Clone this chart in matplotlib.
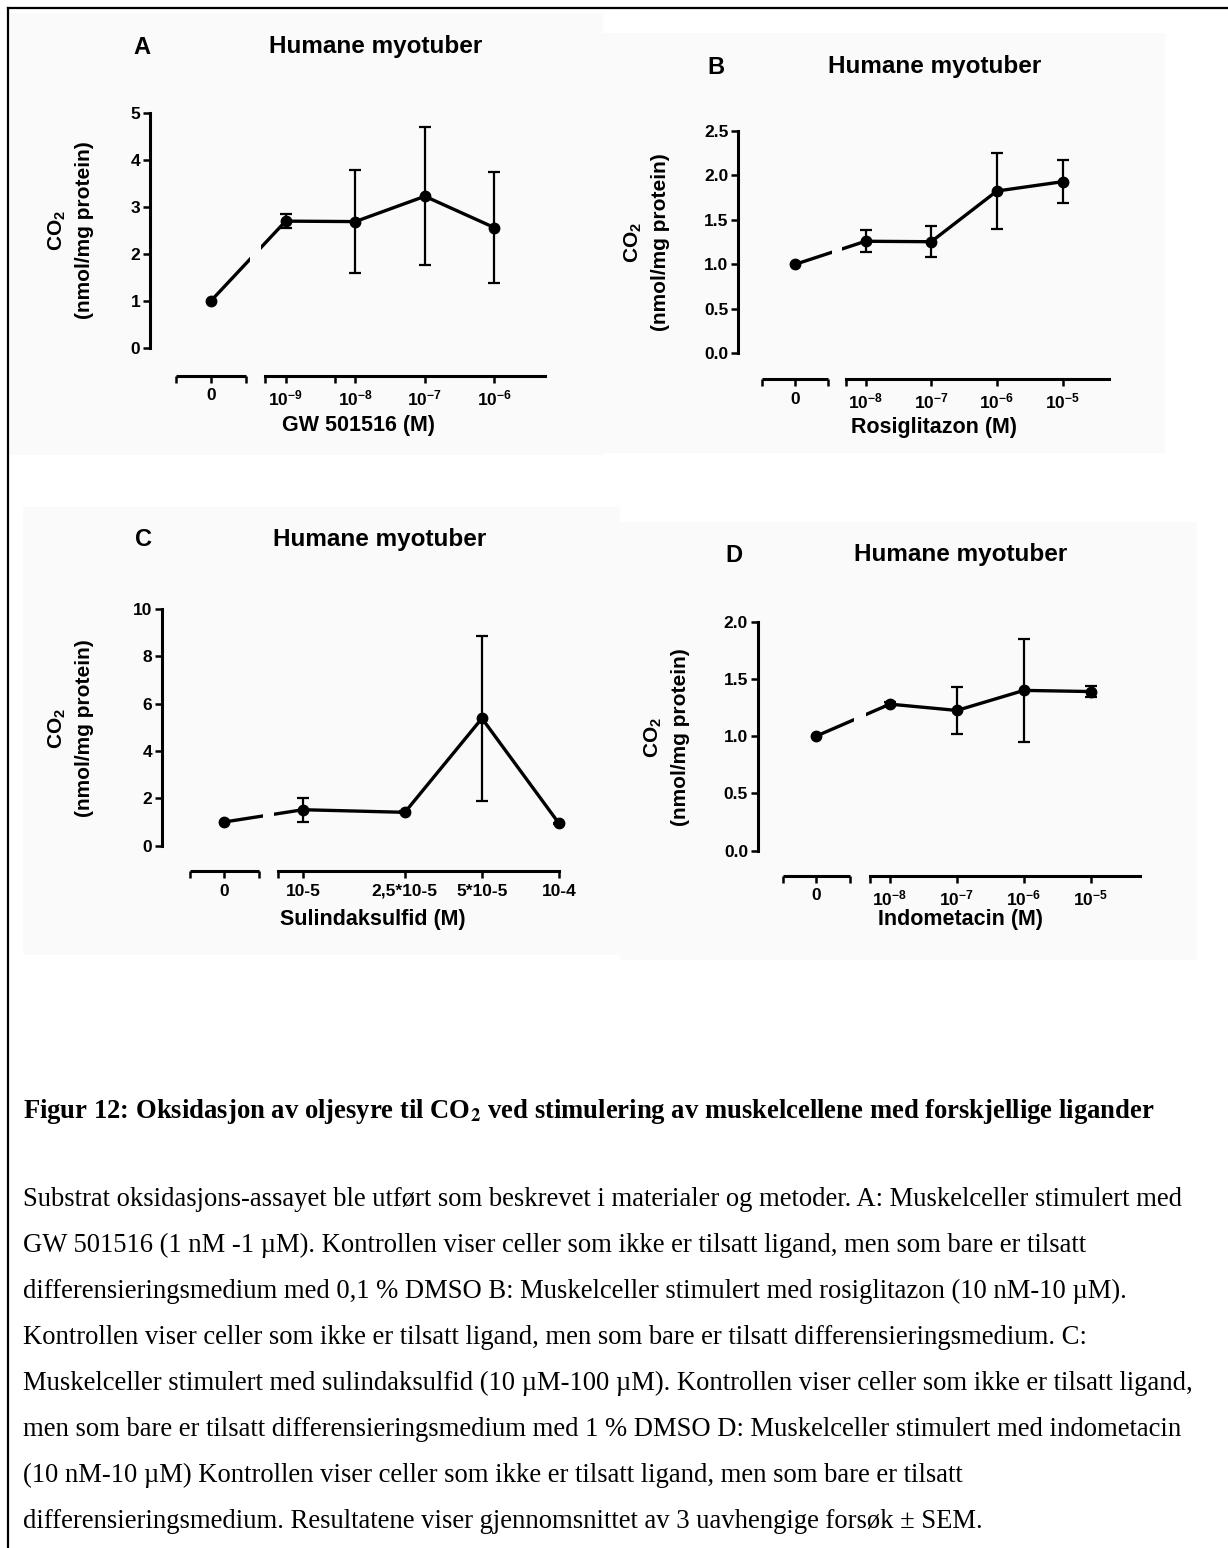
import matplotlib
matplotlib.use('Agg')
import matplotlib.pyplot as plt
import numpy as np
from matplotlib.patches import Rectangle
from matplotlib.lines import Line2D
import matplotlib.transforms as mtransforms

plt.rcParams['font.family'] = ['Liberation Sans', 'DejaVu Sans']
plt.rcParams['font.weight'] = 'bold'
plt.rcParams['mathtext.fontset'] = 'custom'
plt.rcParams['mathtext.bf'] = 'Liberation Sans:bold'
plt.rcParams['mathtext.rm'] = 'Liberation Sans:bold'
plt.rcParams['mathtext.it'] = 'Liberation Sans:bold'

# ---------------- data ----------------
panel_letters = ['A', 'B', 'C', 'D']
panel_title = 'Humane myotuber'
ylabel_text = '$\\mathbf{CO_2}$\n(nmol/mg protein)'

A_dose = [1e-9, 1e-8, 1e-7, 1e-6]
A_ctrl = 1.0
A_mean = [2.70, 2.69, 3.23, 2.56]
A_sem = [0.15, 1.09, 1.47, 1.18]
A_ticklabels = ['0', '$\\mathbf{10^{-9}}$', '$\\mathbf{10^{-8}}$', '$\\mathbf{10^{-7}}$', '$\\mathbf{10^{-6}}$']
A_xlabel = 'GW 501516 (M)'
A_yticks = [0, 1, 2, 3, 4, 5]

B_dose = [1e-8, 1e-7, 1e-6, 1e-5]
B_ctrl = 1.0
B_mean = [1.26, 1.255, 1.825, 1.93]
B_sem = [0.125, 0.175, 0.425, 0.24]
B_ticklabels = ['0', '$\\mathbf{10^{-8}}$', '$\\mathbf{10^{-7}}$', '$\\mathbf{10^{-6}}$', '$\\mathbf{10^{-5}}$']
B_xlabel = 'Rosiglitazon (M)'
B_yticks = [0.0, 0.5, 1.0, 1.5, 2.0, 2.5]

C_dose = [1e-5, 2.5e-5, 5e-5, 1e-4]
C_ctrl = 1.0
C_mean = [1.52, 1.41, 5.38, 0.94]
C_sem = [0.51, 0.04, 3.48, 0.04]
C_ticklabels = ['0', '10-5', '2,5*10-5', '5*10-5', '10-4']
C_xlabel = 'Sulindaksulfid (M)'
C_yticks = [0, 2, 4, 6, 8, 10]

D_dose = [1e-8, 1e-7, 1e-6, 1e-5]
D_ctrl = 1.0
D_mean = [1.28, 1.225, 1.40, 1.39]
D_sem = [0.02, 0.205, 0.45, 0.05]
D_ticklabels = ['0', '$\\mathbf{10^{-8}}$', '$\\mathbf{10^{-7}}$', '$\\mathbf{10^{-6}}$', '$\\mathbf{10^{-5}}$']
D_xlabel = 'Indometacin (M)'
D_yticks = [0.0, 0.5, 1.0, 1.5, 2.0]

caption_head = ('Figur 12: Oksidasjon av oljesyre til CO$_{\\mathbf{2}}$ ved stimulering av '
                'muskelcellene med forskjellige ligander')
caption_lines = [
    'Substrat oksidasjons-assayet ble utført som beskrevet i materialer og metoder. A: Muskelceller stimulert med',
    'GW 501516 (1 nM -1 µM). Kontrollen viser celler som ikke er tilsatt ligand, men som bare er tilsatt',
    'differensieringsmedium med 0,1 % DMSO B: Muskelceller stimulert med rosiglitazon (10 nM-10 µM).',
    'Kontrollen viser celler som ikke er tilsatt ligand, men som bare er tilsatt differensieringsmedium. C:',
    'Muskelceller stimulert med sulindaksulfid (10 µM-100 µM). Kontrollen viser celler som ikke er tilsatt ligand,',
    'men som bare er tilsatt differensieringsmedium med 1 % DMSO D: Muskelceller stimulert med indometacin',
    '(10 nM-10 µM) Kontrollen viser celler som ikke er tilsatt ligand, men som bare er tilsatt',
    'differensieringsmedium. Resultatene viser gjennomsnittet av 3 uavhengige forsøk ± SEM.',
]

# ---------------- layout (pixels) ----------------
W, H, DPI = 1228, 1548, 100
PT = 72.0 / DPI
BG = '#fafafa'

layouts = [
    dict(yx=150, ytop=113.3, ybot=347.7, xay=375.5, l0=176, l1=246, ctrl=211, r0=265, r1=545,
         ref_px=285.7, dec=69.6, extra=[335], letter=(142, 47), title=(376, 47),
         ylab=(70, 230), xlab=(359, 426), bgr=(10, 13, 603, 455)),
    dict(yx=738, ytop=131, ybot=353.3, xay=379, l0=762, l1=828, ctrl=795, r0=846, r1=1109,
         ref_px=865.5, dec=65.7, extra=[], letter=(716, 67), title=(935, 67),
         ylab=(646, 242), xlab=(934, 427), bgr=(603, 33, 1165, 453)),
    dict(yx=162, ytop=609, ybot=845.7, xay=871, l0=190, l1=259, ctrl=224, r0=278, r1=559,
         ref_px=303, dec=256, extra=[], letter=(144, 540), title=(380, 540),
         ylab=(70, 728), xlab=(373, 920), bgr=(23, 507, 620, 955)),
    dict(yx=757.8, ytop=621.7, ybot=850.7, xay=875.7, l0=783.4, l1=850.4, ctrl=816, r0=870, r1=1140,
         ref_px=889.9, dec=67, extra=[], letter=(734, 555), title=(961, 555),
         ylab=(666, 737), xlab=(960, 920), bgr=(620, 522, 1197, 960)),
]

panels = [
    (A_dose, A_ctrl, A_mean, A_sem, A_ticklabels, A_xlabel, A_yticks, '{x:.0f}'),
    (B_dose, B_ctrl, B_mean, B_sem, B_ticklabels, B_xlabel, B_yticks, '{x:.1f}'),
    (C_dose, C_ctrl, C_mean, C_sem, C_ticklabels, C_xlabel, C_yticks, '{x:.0f}'),
    (D_dose, D_ctrl, D_mean, D_sem, D_ticklabels, D_xlabel, D_yticks, '{x:.1f}'),
]

fig = plt.figure(figsize=(W / DPI, H / DPI), dpi=DPI)
fig.patch.set_facecolor('white')


def fx(px):
    return px / W


def fy(py):
    return 1 - py / H


for letter, L, (dose, ctrl, mean, sem, tlabels, xlabel, yticks, yfmt) in zip(panel_letters, layouts, panels):
    xs = np.log10(dose)
    ref_x = xs[0]

    def px2x(px, L=L, ref_x=ref_x):
        return ref_x + (px - L['ref_px']) / L['dec']

    # panel background
    x0, y0, x1, y1 = L['bgr']
    fig.add_artist(Rectangle((fx(x0), fy(y1)), (x1 - x0) / W, (y1 - y0) / H,
                             transform=fig.transFigure, facecolor=BG, edgecolor='none', zorder=-5))

    ymax = yticks[-1]
    ax = fig.add_axes([fx(L['yx']), fy(L['ybot']), (L['r1'] - L['yx']) / W, (L['ybot'] - L['ytop']) / H])
    ax.set_facecolor('none')
    ax.set_xlim(px2x(L['yx']), px2x(L['r1']))
    ax.set_ylim(0, ymax)
    for s in ['top', 'right']:
        ax.spines[s].set_visible(False)
    off_pt = (L['xay'] - L['ybot']) * PT
    ax.spines['bottom'].set_position(('outward', off_pt))
    ax.spines['bottom'].set_bounds(px2x(L['r0']), px2x(L['r1']))
    ax.spines['left'].set_bounds(0, ymax)
    for s in ['bottom', 'left']:
        ax.spines[s].set_linewidth(2.2)

    ctrl_x = px2x(L['ctrl'])
    ax.set_xticks([ctrl_x] + list(xs), labels=tlabels)
    ax.set_xticks([px2x(L['l0']), px2x(L['l1']), px2x(L['r0'])] + [px2x(p) for p in L['extra']], minor=True)
    ax.set_yticks(yticks)
    ax.yaxis.set_major_formatter(yfmt)
    ax.tick_params(axis='both', which='both', direction='out', width=1.8, length=5, labelsize=12.5)
    ax.tick_params(axis='x', pad=4)
    ax.tick_params(axis='y', pad=2)

    # left segment of the broken x axis
    trans = (mtransforms.blended_transform_factory(ax.transData, ax.transAxes)
             + mtransforms.ScaledTranslation(0, -off_pt / 72.0, fig.dpi_scale_trans))
    ax.plot([px2x(L['l0']), px2x(L['l1'])], [0, 0], transform=trans, color='k', lw=2.2,
            clip_on=False, solid_capstyle='butt')

    allx = [ctrl_x] + list(xs)
    ally = [ctrl] + list(mean)
    ax.plot(allx, ally, color='k', lw=2.4, zorder=2, clip_on=False)
    ax.errorbar(xs, mean, yerr=sem, fmt='none', ecolor='k', elinewidth=1.6, capsize=4.5,
                capthick=1.6, zorder=2.2, clip_on=False)
    # break in the connecting line at the axis break
    ax.axvspan(px2x(L['l1'] + 4), px2x(L['r0'] - 4), facecolor=BG, edgecolor='none', zorder=3)
    ax.plot(allx, ally, linestyle='none', marker='o', ms=7.5, color='k', zorder=4, clip_on=False)

    fig.text(fx(L['letter'][0]), fy(L['letter'][1]), letter, fontsize=17, ha='center', va='center')
    fig.text(fx(L['title'][0]), fy(L['title'][1]), panel_title, fontsize=17.5, ha='center', va='center')
    fig.text(fx(L['ylab'][0]), fy(L['ylab'][1]), ylabel_text, fontsize=15, rotation=90,
             ha='center', va='center', multialignment='center', linespacing=1.45)
    fig.text(fx(L['xlab'][0]), fy(L['xlab'][1]), xlabel, fontsize=15.5, ha='center', va='center')

# outer frame (left and top)
fig.add_artist(Line2D([fx(7.5), fx(7.5)], [0, fy(8)], transform=fig.transFigure, color='k', lw=1.6))
fig.add_artist(Line2D([fx(7.5), 1], [fy(8), fy(8)], transform=fig.transFigure, color='k', lw=1.6))

# caption
fig.text(fx(23), fy(1118), caption_head, fontfamily=['Liberation Serif', 'DejaVu Serif'],
         fontweight='bold', fontsize=19.2, ha='left', va='baseline', math_fontfamily='stix')
for i, line in enumerate(caption_lines):
    fig.text(fx(23), fy(1206 + i * 46), line, fontfamily=['Liberation Serif', 'DejaVu Serif'],
             fontweight='normal', fontsize=19.2, ha='left', va='baseline')

fig.savefig('out.png', dpi=DPI, facecolor='white')
